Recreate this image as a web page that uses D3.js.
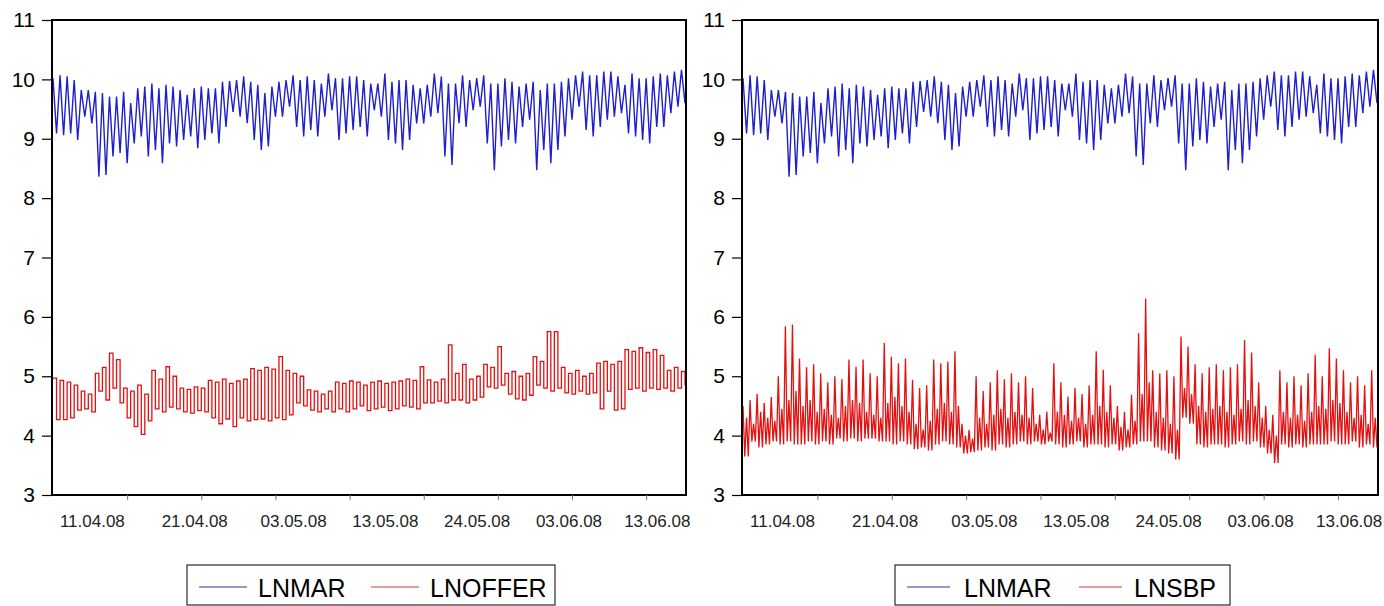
<!DOCTYPE html>
<html>
<head>
<meta charset="utf-8">
<script src="https://cdn.jsdelivr.net/npm/d3@7"></script>
<style>
  body { margin: 0; background: #fff; }
  svg text { font-family: "Liberation Sans", Arial, sans-serif; fill: #000; }
</style>
</head>
<body>
<svg id="chart" width="1384" height="606"></svg>
<script>
// daily high / low of each series (one pair per cycle)
const lnmarHi = [10.02,10.07,10.05,9.99,9.82,9.82,9.79,9.77,9.71,9.71,
  9.79,9.60,9.85,9.88,9.93,9.85,9.91,9.88,9.82,9.74,
  9.85,9.88,9.85,9.85,9.96,9.97,9.99,10.05,9.96,9.91,
  9.77,9.88,9.96,9.99,10.07,9.99,10.05,9.99,9.93,10.10,
  10.02,10.02,10.05,10.05,9.99,9.93,9.93,10.10,9.96,9.99,
  9.99,9.91,9.85,9.91,10.10,10.05,9.93,9.93,10.07,9.99,
  10.02,10.07,9.93,9.93,10.02,9.96,9.88,9.93,9.96,9.82,
  9.93,9.93,9.96,10.02,10.07,10.13,10.07,10.07,10.13,10.13,
  10.05,9.91,10.10,10.02,10.02,10.05,10.10,10.07,10.13,10.16];
const lnmarLo = [9.09,9.06,9.09,8.98,9.37,9.26,8.36,8.39,8.70,8.76,
  8.59,8.92,9.04,8.70,8.81,8.59,8.92,8.87,8.98,9.04,
  8.84,8.98,9.09,8.92,9.20,9.45,9.37,9.26,8.98,8.81,
  8.87,9.37,9.37,9.54,9.20,9.04,9.15,9.04,9.37,9.48,
  8.98,9.09,9.15,9.20,9.04,9.48,9.37,8.98,8.92,8.81,
  8.98,9.26,9.26,9.37,9.43,8.70,8.56,9.26,9.20,9.48,
  9.54,8.92,8.47,8.87,8.98,8.92,9.20,9.32,8.47,8.81,
  8.59,8.81,9.04,9.32,9.54,9.15,9.04,9.20,9.32,9.37,
  9.43,9.09,9.04,8.98,8.92,9.20,9.20,9.43,9.54,9.60];

const lnofferHi = [4.97,4.93,4.90,4.85,4.75,4.70,5.05,5.15,5.39,5.28,
  4.80,4.75,4.85,4.70,5.10,4.95,5.16,5.00,4.80,4.78,
  4.82,4.80,4.93,4.90,4.95,4.88,4.92,4.95,5.13,5.10,
  5.15,5.12,5.33,5.10,5.05,5.00,4.77,4.75,4.70,4.75,
  4.90,4.88,4.92,4.90,4.85,4.90,4.92,4.88,4.90,4.92,
  4.95,4.93,5.16,4.94,4.90,4.95,5.53,5.05,5.20,4.95,
  5.00,5.20,5.15,5.50,5.05,5.08,5.00,5.05,5.33,5.25,
  5.75,5.75,5.15,5.05,5.10,5.00,5.05,5.22,5.25,5.20,
  5.25,5.45,5.42,5.48,5.40,5.45,5.35,5.10,5.15,5.08];
const lnofferLo = [4.27,4.27,4.30,4.43,4.45,4.40,4.75,4.60,4.80,4.55,
  4.30,4.15,4.02,4.25,4.45,4.40,4.48,4.45,4.40,4.38,
  4.42,4.40,4.30,4.20,4.28,4.15,4.30,4.25,4.27,4.28,
  4.25,4.30,4.27,4.35,4.55,4.50,4.43,4.40,4.45,4.40,
  4.45,4.40,4.45,4.50,4.42,4.45,4.48,4.42,4.45,4.50,
  4.48,4.45,4.55,4.55,4.58,4.55,4.60,4.60,4.55,4.60,
  4.65,4.82,4.80,4.85,4.70,4.62,4.60,4.68,4.85,4.80,
  4.75,4.80,4.72,4.70,4.75,4.70,4.72,4.45,4.75,4.43,
  4.45,4.78,4.80,4.75,4.80,4.78,4.80,4.75,4.80,4.85];

const lnsbpHi = [4.50,4.60,4.70,4.55,4.65,5.00,5.84,5.87,5.30,5.15,
  5.20,5.05,4.90,5.00,4.95,5.28,5.16,5.28,5.05,5.00,
  5.56,5.33,5.22,5.30,4.94,4.80,4.85,5.28,5.22,5.25,
  5.42,4.20,4.10,5.00,4.75,4.90,5.10,4.95,5.05,4.90,
  5.00,4.80,4.35,4.40,5.22,4.90,4.66,4.80,4.70,4.85,
  5.42,5.11,4.85,4.50,4.40,4.69,5.73,6.31,5.10,5.05,
  5.10,5.00,5.67,5.50,5.20,5.05,5.15,5.20,5.10,5.15,
  5.20,5.61,5.40,4.90,4.50,4.35,5.10,4.90,5.00,4.85,
  5.05,5.36,5.00,5.47,5.30,5.10,4.90,5.00,4.85,5.10];
const lnsbpMid = [4.30,4.20,4.40,4.30,4.25,4.45,4.60,4.75,4.50,4.60,
  4.40,4.45,4.35,4.30,4.50,4.60,4.55,4.40,4.35,4.30,
  4.55,4.65,4.50,4.40,4.20,4.10,4.25,4.45,4.55,4.40,
  4.50,4.00,3.95,4.30,4.20,4.35,4.45,4.30,4.40,4.35,
  4.30,4.20,4.10,4.05,4.40,4.35,4.25,4.30,4.20,4.35,
  4.50,4.40,4.30,4.15,4.10,4.25,4.70,4.90,4.40,4.30,
  4.20,4.10,4.80,4.70,4.50,4.40,4.45,4.50,4.40,4.35,
  4.45,4.60,4.50,4.30,4.10,4.00,4.40,4.30,4.35,4.25,
  4.40,4.50,4.45,4.60,4.55,4.40,4.30,4.35,4.20,4.30];
const lnsbpLo = [3.65,3.90,3.80,3.85,3.90,3.85,3.90,3.85,3.85,3.90,
  3.85,3.90,3.85,3.95,3.90,3.95,3.90,3.95,3.95,3.90,
  3.90,3.85,3.90,3.85,3.77,3.80,3.75,3.85,3.90,3.85,
  3.80,3.70,3.72,3.75,3.80,3.75,3.85,3.80,3.85,3.90,
  3.85,3.90,3.85,3.90,3.85,3.80,3.85,3.90,3.80,3.85,
  3.85,3.80,3.85,3.75,3.80,3.85,3.90,3.90,3.80,3.75,
  3.70,3.60,4.30,4.20,3.85,3.80,3.85,3.85,3.80,3.85,
  3.90,3.85,3.90,3.80,3.70,3.54,3.85,3.80,3.85,3.80,
  3.85,3.85,3.85,3.90,3.85,3.85,3.90,3.80,3.85,3.80];

const dateLabels = ["11.04.08","21.04.08","03.05.08","13.05.08","24.05.08","03.06.08","13.06.08"];
const labelPos = [11, 40, 68, 94, 120, 146, 171];   // in half-cycle steps
const tickPos = [21, 42, 63, 84, 105, 126, 147, 168];
const yTicks = [3,4,5,6,7,8,9,10,11];

// hi/lo pairs -> one point sequence
const zig = (hi, lo) => hi.flatMap((h, i) => [h, lo[i]]);
const spiky = (hi, mid, lo) => hi.flatMap((h, i) => [h, lo[i], mid[i], lo[i]]);
const lnmar = zig(lnmarHi, lnmarLo);

const panels = [
  { left: 52, right: 686, red: zig(lnofferHi, lnofferLo), redName: "LNOFFER", step: true,
    legend: { x0: 187, x1: 555, blue: [199, 247], t1: 258, red: [371, 419], t2: 430 } },
  { left: 742, right: 1378, red: spiky(lnsbpHi, lnsbpMid, lnsbpLo), redName: "LNSBP", step: false,
    legend: { x0: 895, x1: 1230, blue: [907, 950], t1: 964, red: [1079, 1122], t2: 1134 } }
];

const plotTop = 20, plotBottom = 495;
const svg = d3.select("#chart");
const y = d3.scaleLinear().domain([3, 11]).range([plotBottom, plotTop]);

panels.forEach(p => {
  const g = svg.append("g");
  const x = d3.scaleLinear().domain([0, lnmar.length - 1]).range([p.left + 1, p.right - 1]);
  const xr = d3.scaleLinear().domain([0, p.red.length - 1]).range([p.left + 1, p.right - 1]);

  const line = d3.line().x((d, i) => x(i)).y(d => y(d));
  g.append("path").datum(lnmar)
    .attr("d", line)
    .attr("fill", "none").attr("stroke", "#1f1fcc").attr("stroke-width", 1.4);

  const redLine = d3.line().x((d, i) => xr(i)).y(d => y(d))
    .curve(p.step ? d3.curveStepAfter : d3.curveLinear);
  g.append("path").datum(p.red)
    .attr("d", redLine)
    .attr("fill", "none").attr("stroke", "#e31010").attr("stroke-width", 1.3);

  // frame
  g.append("rect")
    .attr("x", p.left).attr("y", plotTop)
    .attr("width", p.right - p.left).attr("height", plotBottom - plotTop)
    .attr("fill", "none").attr("stroke", "#000").attr("stroke-width", 2);

  const yAxis = g.append("g")
    .attr("transform", `translate(${p.left},0)`)
    .call(d3.axisLeft(y).tickValues(yTicks).tickFormat(d3.format("d")).tickSize(10).tickPadding(7));
  yAxis.select(".domain").remove();
  yAxis.selectAll("line").attr("stroke-width", 1.2);
  yAxis.selectAll("text").style("font-size", "21px");

  // small tick marks under the axis
  const xTicks = g.append("g")
    .attr("transform", `translate(0,${plotBottom})`)
    .call(d3.axisBottom(x).tickValues(tickPos).tickFormat("").tickSize(5));
  xTicks.select(".domain").remove();
  xTicks.selectAll("line").attr("stroke", "#777");

  const xAxis = g.append("g")
    .attr("transform", `translate(0,${plotBottom})`)
    .call(d3.axisBottom(x).tickValues(labelPos).tickFormat((d, i) => dateLabels[i]).tickSize(0).tickPadding(20));
  xAxis.select(".domain").remove();
  xAxis.selectAll("text").style("font-size", "17px").style("fill", "#222");

  // legend
  const L = p.legend;
  const lg = svg.append("g");
  lg.append("rect").attr("x", L.x0).attr("y", 565).attr("width", L.x1 - L.x0).attr("height", 40)
    .attr("fill", "#fff").attr("stroke", "#000").attr("stroke-width", 1);
  lg.append("line").attr("x1", L.blue[0]).attr("x2", L.blue[1]).attr("y1", 587).attr("y2", 587)
    .attr("stroke", "#3030a8").attr("stroke-width", 1.2);
  lg.append("text").attr("x", L.t1).attr("y", 597).style("font-size", "25px").text("LNMAR");
  lg.append("line").attr("x1", L.red[0]).attr("x2", L.red[1]).attr("y1", 587).attr("y2", 587)
    .attr("stroke", "#d03838").attr("stroke-width", 1.2);
  lg.append("text").attr("x", L.t2).attr("y", 597).style("font-size", "25px").text(p.redName);
});
</script>
</body>
</html>
